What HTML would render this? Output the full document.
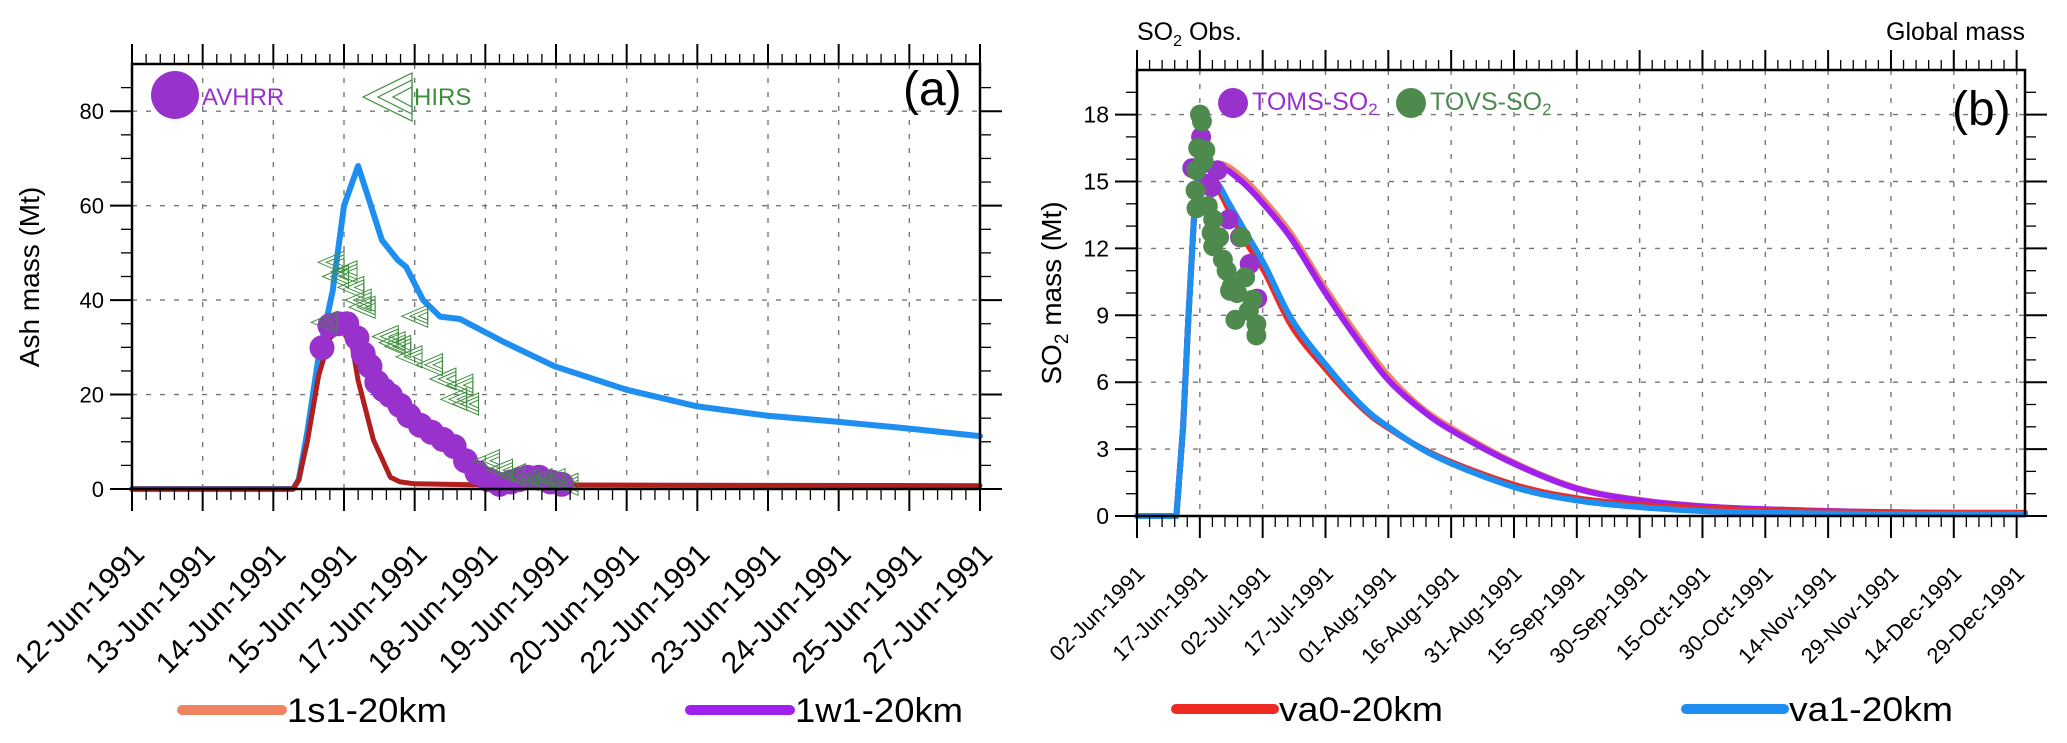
<!DOCTYPE html>
<html><head><meta charset="utf-8"><style>
html,body{margin:0;padding:0;background:#fff}
svg{display:block;font-family:"Liberation Sans",Arial,sans-serif}
</style></head><body>
<svg id="chart" width="2067" height="743" viewBox="0 0 2067 743" xmlns="http://www.w3.org/2000/svg">
<g id="gridA"></g>
<g id="gridB"></g>
<g id="seriesA"></g>
<g id="seriesB"></g>
<g id="axesA"></g>
<g id="axesB"></g>

<text x="903" y="105" font-size="48">(a)</text>
<text x="1952" y="125" font-size="48">(b)</text>
<text x="1137" y="40" font-size="25">SO<tspan font-size="16" dy="6">2</tspan><tspan dy="-6"> Obs.</tspan></text>
<text x="2025" y="40" font-size="25" text-anchor="end">Global mass</text>
<text transform="translate(39,277) rotate(-90)" font-size="28" text-anchor="middle">Ash mass (Mt)</text>
<text transform="translate(1061,293) rotate(-90)" font-size="28" text-anchor="middle">SO<tspan font-size="19" dy="7">2</tspan><tspan dy="-7"> mass (Mt)</tspan></text>

<g>
<circle cx="175" cy="95" r="24" fill="#9932CC"/>
<text x="202" y="105" font-size="24" fill="#9932CC">AVHRR</text>
<g fill="none" stroke="#3E8E3E" stroke-width="1.2">
<path d="M363,97 L412,73 L412,121 Z"/><path d="M378,97 L412,80 L412,114 Z"/><path d="M393,97 L412,87 L412,107 Z"/>
</g>
<text x="414" y="105" font-size="24" fill="#3E8E3E">HIRS</text>
</g>
<g>
<circle cx="1233" cy="103" r="15" fill="#9932CC"/>
<text x="1252" y="110" font-size="25" fill="#9932CC">TOMS-SO<tspan font-size="17" dy="5">2</tspan></text>
<circle cx="1411" cy="103" r="15" fill="#4E8A4E"/>
<text x="1430" y="110" font-size="25" fill="#4E8A4E">TOVS-SO<tspan font-size="17" dy="5">2</tspan></text>
</g>

<g>
<line x1="182" y1="710" x2="282" y2="710" stroke="#F08462" stroke-width="10" stroke-linecap="round"/>
<text x="287" y="722" font-size="34" textLength="160" lengthAdjust="spacingAndGlyphs">1s1-20km</text>
<line x1="690" y1="710" x2="790" y2="710" stroke="#A020F0" stroke-width="10" stroke-linecap="round"/>
<text x="795" y="722" font-size="34" textLength="168" lengthAdjust="spacingAndGlyphs">1w1-20km</text>
<line x1="1176" y1="709" x2="1274" y2="709" stroke="#EE2A24" stroke-width="10" stroke-linecap="round"/>
<text x="1279" y="721" font-size="34" textLength="164" lengthAdjust="spacingAndGlyphs">va0-20km</text>
<line x1="1686" y1="709" x2="1784" y2="709" stroke="#1E8FF0" stroke-width="10" stroke-linecap="round"/>
<text x="1789" y="721" font-size="34" textLength="164" lengthAdjust="spacingAndGlyphs">va1-20km</text>
</g>
</svg>
<script>
// ---------- Panel (a) data ----------
const aTickLabels = ["12-Jun-1991","13-Jun-1991","14-Jun-1991","15-Jun-1991","17-Jun-1991","18-Jun-1991","19-Jun-1991","20-Jun-1991","22-Jun-1991","23-Jun-1991","24-Jun-1991","25-Jun-1991","27-Jun-1991"];
const aYTicks = [0,20,40,60,80];
const aBlueX = [0,2.85,2.95,3.1,3.3,3.55,3.75,4.0,4.2,4.42,4.7,4.85,5.15,5.45,5.8,6.6,7.47,8.75,10,11.25,12.5,13.75,15];
const aBlueY = [0,0,2,12,28,42,60,68.4,61,52.7,48.5,47,40,36.5,36,31,26,21,17.5,15.5,14.2,12.8,11.2];
const aRedX = [0,2.85,2.95,3.1,3.3,3.5,3.7,3.9,4.0,4.27,4.57,4.74,5.0,6.0,10,15];
const aRedY = [0,0,2,10,24,32,34,30,23,10.4,2.5,1.5,1.1,0.9,0.8,0.7];
const aAvhrrX = [3.36,3.5,3.65,3.8,3.98,4.09,4.21,4.33,4.45,4.57,4.74,4.9,5.1,5.3,5.5,5.7,5.9,6.1,6.3,6.5,6.7,6.85,7.0,7.2,7.4,7.6];
const aAvhrrY = [29.9,34.6,35,35,32,28.6,26,22.6,21,19.8,17.7,15.5,13.5,12,10.5,9,6,3.5,2,1,1.5,2,2.5,2.5,1.5,1];
const aHirsX = [3.52,3.6,3.75,3.87,4.0,4.07,3.4,4.48,4.6,4.7,5.0,4.9,5.26,5.5,5.8,5.69,5.9,6.27,6.5,6.73,6.97,7.2,7.43,7.66];
const aHirsY = [48,45,46,42.7,40,38.5,35.3,32.3,31,30.2,36.6,28,26.3,23.3,22,19,18,6,4,3,2,2,2,1];

// ---------- Panel (b) data ----------
const bTickLabels = ["02-Jun-1991","17-Jun-1991","02-Jul-1991","17-Jul-1991","01-Aug-1991","16-Aug-1991","31-Aug-1991","15-Sep-1991","30-Sep-1991","15-Oct-1991","30-Oct-1991","14-Nov-1991","29-Nov-1991","14-Dec-1991","29-Dec-1991"];
const bYTicks = [0,3,6,9,12,15,18];
const bModelX = [0,9.4,11,12.3,13.7,14.5,18.7,22,26,30.6,37,45,53.4,60,71.6,90,105,120,135,150,170,190,212];
const bBlueY = [0,0,4,9,13.7,15.1,15.0,14,12.7,11.2,8.8,6.8,5.0,4.0,2.65,1.3,0.7,0.4,0.22,0.15,0.1,0.08,0.08];
const bRedY  = [0,0,4,9,13.7,15.0,14.8,13.7,12.3,10.9,8.5,6.6,4.9,3.95,2.7,1.4,0.8,0.5,0.35,0.25,0.18,0.15,0.15];
const bPurX = [0,9.4,11,12.3,13.7,14.5,19.6,25,30.6,37,45,53.4,60,67,75,90,105,120,135,150,170,190,212];
const bPurY = [0,0,4,9,13.7,15.2,15.65,15,13.9,12.4,10,7.7,6.1,4.9,3.85,2.35,1.23,0.7,0.43,0.3,0.2,0.15,0.12];
const bOrgY = [0,0,4,9,13.7,15.2,15.8,15.2,14.1,12.6,10.2,7.9,6.3,5.0,3.95,2.4,1.26,0.72,0.44,0.3,0.2,0.15,0.12];
const bTomsX = [15.3,13.2,19.2,21.9,24.6,26.9,28.7,16.9,17.8];
const bTomsY = [17.0,15.6,15.5,13.3,12.5,11.3,9.75,14.9,14.75];
const bTovsX = [15.05,15.5,14.6,16.3,14.2,15.9,14.0,14.2,16.9,18.2,17.8,19.6,18.2,20.5,21.4,24.9,22.6,23.9,25.8,22.2,23.5,27.6,28.5,28.5,26.7];
const bTovsY = [18.0,17.7,16.5,16.4,15.5,15.9,14.6,13.8,13.9,13.3,12.7,12.5,12.1,11.5,11.0,12.5,10.3,10.0,10.7,10.1,8.8,9.7,8.6,8.1,9.2];

const NS = "http://www.w3.org/2000/svg";
function mk(tag, attrs, parent){ const e=document.createElementNS(NS,tag); for(const k in attrs) e.setAttribute(k,attrs[k]); parent.appendChild(e); return e; }

const A = {l:132, r:980, t:64, b:489, xmax:15, ymax:90};
const B = {l:1137, r:2025, t:70, b:516, xmax:212, ymax:20};
function xA(d){ return A.l + d/A.xmax*(A.r-A.l); }
function yA(v){ return A.b - v/A.ymax*(A.b-A.t); }
function xB(d){ return B.l + d/B.xmax*(B.r-B.l); }
function yB(v){ return B.b - v/B.ymax*(B.b-B.t); }

function drawAxes(P, xs, ys, yMinor, labelsX, yTickVals, gGrid, gAx, xFont, xOff, xLabY, yFont, pre){
  xs.forEach((x,i)=>{ if(i>0 && x<P.r-2){ const l=mk('line',{x1:x,y1:P.t,x2:x,y2:P.b,stroke:'#777','stroke-width':1.4,'stroke-dasharray':'5 9'},gGrid);
    
     }});
  ys.forEach((y,i)=>{ if(i>0 && y>P.t+2){ const l=mk('line',{x1:P.l,y1:y,x2:P.r,y2:y,stroke:'#777','stroke-width':1.4,'stroke-dasharray':'5 9'},gGrid);
    
     }});
  const frame = mk('rect',{x:P.l,y:P.t,width:P.r-P.l,height:P.b-P.t,fill:'none',stroke:'#000','stroke-width':2.5},gAx);
  
  
  xs.forEach((x,i)=>{
    const t1=mk('line',{x1:x,y1:P.b,x2:x,y2:P.b+22,stroke:'#000','stroke-width':2},gAx);
    
    
    const t2=mk('line',{x1:x,y1:P.t,x2:x,y2:P.t-20,stroke:'#000','stroke-width':2},gAx);
    
    
    if(i<xs.length-1){ for(let k=1;k<5;k++){ const mx=x+(xs[i+1]-x)*k/5;
      const m1=mk('line',{x1:mx,y1:P.b,x2:mx,y2:P.b+11,stroke:'#000','stroke-width':1.3},gAx);
      
      
      const m2=mk('line',{x1:mx,y1:P.t,x2:mx,y2:P.t-10,stroke:'#000','stroke-width':1.3},gAx);
      
       } }
    const tx=mk('text',{x:0,y:0,'font-size':xFont,'text-anchor':'end',transform:`translate(${x+xOff},${xLabY}) rotate(-45)`},gAx);
    tx.textContent=labelsX[i];
    
    
  });
  ys.forEach((y,i)=>{
    const t1=mk('line',{x1:P.l-22,y1:y,x2:P.l,y2:y,stroke:'#000','stroke-width':2},gAx);
    
    
    const t2=mk('line',{x1:P.r,y1:y,x2:P.r+22,y2:y,stroke:'#000','stroke-width':2},gAx);
    
    
    const tx=mk('text',{x:P.l-28,y:y+8,'font-size':yFont,'text-anchor':'end'},gAx);
    tx.textContent=yTickVals[i];
    
    
  });
  yMinor.forEach(y=>{
    const m1=mk('line',{x1:P.l-11,y1:y,x2:P.l,y2:y,stroke:'#000','stroke-width':1.3},gAx);
    
    
    const m2=mk('line',{x1:P.r,y1:y,x2:P.r+11,y2:y,stroke:'#000','stroke-width':1.3},gAx);
    
    
  });
}

const aXs = aTickLabels.map((_,i)=>xA(i*1.25));
const aYs = aYTicks.map(yA);
const aYMinor=[]; for(let v=5; v<A.ymax; v+=5){ if(v%20) aYMinor.push(yA(v)); }
drawAxes(A, aXs, aYs, aYMinor, aTickLabels, aYTicks, document.getElementById('gridA'), document.getElementById('axesA'), 30, 14, 556, 22, 'panel-a');
const bXs = bTickLabels.map((_,i)=>xB(i*15));
const bYs = bYTicks.map(yB);
const bYMinor=[]; for(let v=1; v<B.ymax; v+=1){ if(v%3) bYMinor.push(yB(v)); }
drawAxes(B, bXs, bYs, bYMinor, bTickLabels, bYTicks, document.getElementById('gridB'), document.getElementById('axesB'), 22, 9, 575, 23, 'panel-b');

function line(xArr, yArr, fx, fy, color, w, parent, name, smooth){
  const P = xArr.map((x,i)=>[fx(x), fy(yArr[i])]);
  let d = 'M'+P[0][0].toFixed(1)+','+P[0][1].toFixed(1);
  for(let i=1;i<P.length;i++){
    if(smooth && i>5){
      const p0=P[Math.max(i-2,0)], p1=P[i-1], p2=P[i], p3=P[Math.min(i+1,P.length-1)];
      const c1=[p1[0]+(p2[0]-p0[0])/6, p1[1]+(p2[1]-p0[1])/6];
      const c2=[p2[0]-(p3[0]-p1[0])/6, p2[1]-(p3[1]-p1[1])/6];
      d += ` C${c1[0].toFixed(1)},${c1[1].toFixed(1)} ${c2[0].toFixed(1)},${c2[1].toFixed(1)} ${p2[0].toFixed(1)},${p2[1].toFixed(1)}`;
    } else d += ' L'+P[i][0].toFixed(1)+','+P[i][1].toFixed(1);
  }
  const p = mk('path',{d:d,fill:'none',stroke:color,'stroke-width':w,'stroke-linejoin':'round','stroke-linecap':'round'},parent);
  
  
}
function dots(xArr, yArr, fx, fy, color, r, parent, name){
  xArr.forEach((x,i)=>{ const c=mk('circle',{cx:fx(x).toFixed(1),cy:fy(yArr[i]).toFixed(1),r:r,fill:color},parent);
    
     });
}
const sA=document.getElementById('seriesA'), sB=document.getElementById('seriesB');
line(aBlueX,aBlueY,xA,yA,'#1E8FF0',6,sA,'va1-line-a',false);
line(aRedX,aRedY,xA,yA,'#B01E1E',5,sA,'va0-line-a',false);
dots(aAvhrrX,aAvhrrY,xA,yA,'#9932CC',12.5,sA,'avhrr-point');
aHirsX.forEach((x,i)=>{
  const cx=xA(x), cy=yA(aHirsY[i]);
  const g=mk('g',{fill:'none',stroke:'#3E8E3E','stroke-width':1},sA);
  
  
  [1,0.68,0.36].forEach(s=>{ const w=26*s,h=11*s;
    mk('path',{d:`M${(cx+13-w).toFixed(1)},${cy.toFixed(1)} L${(cx+13).toFixed(1)},${(cy-h).toFixed(1)} L${(cx+13).toFixed(1)},${(cy+h).toFixed(1)} Z`},g); });
});
line(bPurX,bOrgY,xB,yB,'#F08462',6,sB,'1s1-line',true);
line(bPurX,bPurY,xB,yB,'#A020F0',6,sB,'1w1-line',true);
line(bModelX,bRedY,xB,yB,'#EE2A24',6,sB,'va0-line-b',true);
line(bModelX,bBlueY,xB,yB,'#1E8FF0',6,sB,'va1-line-b',true);
dots(bTomsX,bTomsY,xB,yB,'#9932CC',10,sB,'toms-point');
dots(bTovsX,bTovsY,xB,yB,'#4E8A4E',10,sB,'tovs-point');
</script>
</body></html>
